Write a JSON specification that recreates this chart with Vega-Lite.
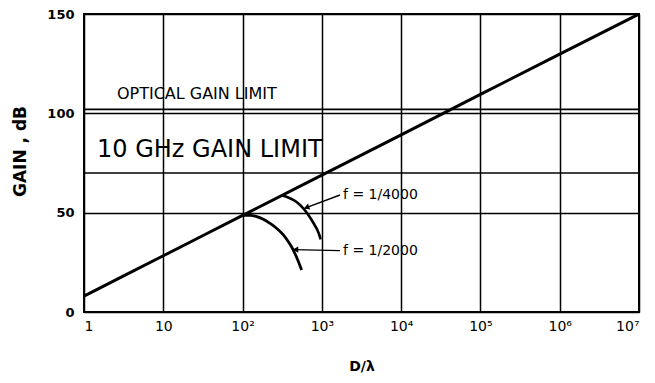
{
  "$schema": "https://vega.github.io/schema/vega-lite/v6.json",
  "width": 555,
  "height": 298,
  "autosize": {"type": "none"},
  "padding": {"left": 84, "top": 14, "right": 16, "bottom": 71},
  "background": "white",
  "config": {
    "view": {"stroke": "#000", "strokeWidth": 2},
    "font": "DejaVu Sans"
  },
  "datasets": {
    "curves": [
      {"d": 1, "gain": 8, "series": "main"},
      {"d": 10, "gain": 28.3, "series": "main"},
      {"d": 100, "gain": 48.6, "series": "main"},
      {"d": 1000, "gain": 68.9, "series": "main"},
      {"d": 10000, "gain": 89.2, "series": "main"},
      {"d": 100000, "gain": 109.5, "series": "main"},
      {"d": 1000000, "gain": 129.8, "series": "main"},
      {"d": 10000000, "gain": 150, "series": "main"},
      {"d": 100, "gain": 48.6, "series": "f2000"},
      {"d": 125, "gain": 48.6, "series": "f2000"},
      {"d": 151, "gain": 48.0, "series": "f2000"},
      {"d": 185, "gain": 46.6, "series": "f2000"},
      {"d": 222, "gain": 44.6, "series": "f2000"},
      {"d": 275, "gain": 41.8, "series": "f2000"},
      {"d": 327, "gain": 38.8, "series": "f2000"},
      {"d": 380, "gain": 35.2, "series": "f2000"},
      {"d": 436, "gain": 31.2, "series": "f2000"},
      {"d": 495, "gain": 26.3, "series": "f2000"},
      {"d": 556, "gain": 21.1, "series": "f2000"},
      {"d": 311, "gain": 58.6, "series": "f4000"},
      {"d": 370, "gain": 57.8, "series": "f4000"},
      {"d": 436, "gain": 56.4, "series": "f4000"},
      {"d": 510, "gain": 54.5, "series": "f4000"},
      {"d": 583, "gain": 52.2, "series": "f4000"},
      {"d": 660, "gain": 49.5, "series": "f4000"},
      {"d": 743, "gain": 46.3, "series": "f4000"},
      {"d": 810, "gain": 43.8, "series": "f4000"},
      {"d": 877, "gain": 41.3, "series": "f4000"},
      {"d": 925, "gain": 39.0, "series": "f4000"},
      {"d": 966, "gain": 36.6, "series": "f4000"}
    ],
    "arrows": [
      {"d": 1694, "gain": 58.9, "series": "a4000"},
      {"d": 612, "gain": 52.3, "series": "a4000"},
      {"d": 1694, "gain": 30.9, "series": "a2000"},
      {"d": 440, "gain": 31.4, "series": "a2000"}
    ],
    "heads": [
      {"d": 640, "gain": 52.6, "angle": 340},
      {"d": 465, "gain": 31.4, "angle": 0}
    ],
    "limits": [
      {"gain": 70},
      {"gain": 102}
    ],
    "optical": [
      {"d": 2.6, "gain": 109.7, "label": "OPTICAL GAIN LIMIT"}
    ],
    "ghz": [
      {"d": 1.46, "gain": 81.5, "label": "10 GHz GAIN LIMIT"}
    ],
    "flabels": [
      {"d": 1848, "gain": 58.9, "label": "f = 1/4000"},
      {"d": 1848, "gain": 30.9, "label": "f = 1/2000"}
    ]
  },
  "layer": [
    {
      "data": {"name": "limits"},
      "mark": {"type": "rule", "stroke": "#000", "strokeWidth": 1.6},
      "encoding": {
        "y": {"field": "gain", "type": "quantitative", "scale": {"domain": [0, 150], "nice": false}}
      }
    },
    {
      "data": {"name": "curves"},
      "mark": {"type": "line", "stroke": "#000", "interpolate": "monotone"},
      "encoding": {
        "x": {
          "field": "d",
          "type": "quantitative",
          "scale": {"type": "log", "domain": [1, 10000000], "nice": false},
          "axis": {
            "values": [1, 10, 100, 1000, 10000, 100000, 1000000, 10000000],
            "labelExpr": "datum.value == 1 ? '1' : datum.value == 10 ? '10' : '10' + ['⁰','¹','²','³','⁴','⁵','⁶','⁷'][round(log(datum.value)/LN10)]",
            "title": "D/λ",
            "titleFont": "DejaVu Sans",
            "titleFontWeight": "bold",
            "titleFontSize": 14,
            "titlePadding": 26,
            "titleColor": "#000",
            "labelFont": "DejaVu Sans",
            "labelFontSize": 14,
            "labelColor": "#000",
            "labelPadding": 7,
            "ticks": false,
            "domain": false,
            "grid": true,
            "gridColor": "#000",
            "gridWidth": 1.5,
            "gridOpacity": 1
          }
        },
        "y": {
          "field": "gain",
          "type": "quantitative",
          "scale": {"domain": [0, 150], "nice": false},
          "axis": {
            "values": [0, 50, 100, 150],
            "title": "GAIN , dB",
            "titleFont": "DejaVu Sans",
            "titleFontWeight": "bold",
            "titleFontSize": 17,
            "titleColor": "#000",
            "titlePadding": 17,
            "titleY": 137,
            "labelFont": "DejaVu Sans",
            "labelFontWeight": "bold",
            "labelFontSize": 13,
            "labelColor": "#000",
            "labelPadding": 10,
            "ticks": false,
            "domain": false,
            "grid": true,
            "gridColor": "#000",
            "gridWidth": 1.6,
            "gridOpacity": 1
          }
        },
        "detail": {"field": "series"},
        "strokeWidth": {
          "field": "series",
          "type": "nominal",
          "scale": {"domain": ["main", "f2000", "f4000"], "range": [3, 2.6, 2.6]},
          "legend": null
        }
      }
    },
    {
      "data": {"name": "arrows"},
      "mark": {"type": "line", "stroke": "#000", "strokeWidth": 1.4},
      "encoding": {
        "x": {"field": "d", "type": "quantitative"},
        "y": {"field": "gain", "type": "quantitative"},
        "detail": {"field": "series"}
      }
    },
    {
      "data": {"name": "heads"},
      "mark": {"type": "point", "shape": "triangle-left", "filled": true, "color": "#000", "size": 40, "opacity": 1},
      "encoding": {
        "x": {"field": "d", "type": "quantitative"},
        "y": {"field": "gain", "type": "quantitative"},
        "angle": {"field": "angle", "type": "quantitative", "scale": null}
      }
    },
    {
      "data": {"name": "optical"},
      "mark": {"type": "text", "align": "left", "baseline": "middle", "color": "#000", "font": "DejaVu Sans", "fontSize": 16},
      "encoding": {
        "x": {"field": "d", "type": "quantitative"},
        "y": {"field": "gain", "type": "quantitative"},
        "text": {"field": "label"}
      }
    },
    {
      "data": {"name": "ghz"},
      "mark": {"type": "text", "align": "left", "baseline": "middle", "color": "#000", "font": "DejaVu Sans", "fontSize": 24},
      "encoding": {
        "x": {"field": "d", "type": "quantitative"},
        "y": {"field": "gain", "type": "quantitative"},
        "text": {"field": "label"}
      }
    },
    {
      "data": {"name": "flabels"},
      "mark": {"type": "text", "align": "left", "baseline": "middle", "color": "#000", "font": "DejaVu Sans", "fontSize": 14},
      "encoding": {
        "x": {"field": "d", "type": "quantitative"},
        "y": {"field": "gain", "type": "quantitative"},
        "text": {"field": "label"}
      }
    }
  ]
}
